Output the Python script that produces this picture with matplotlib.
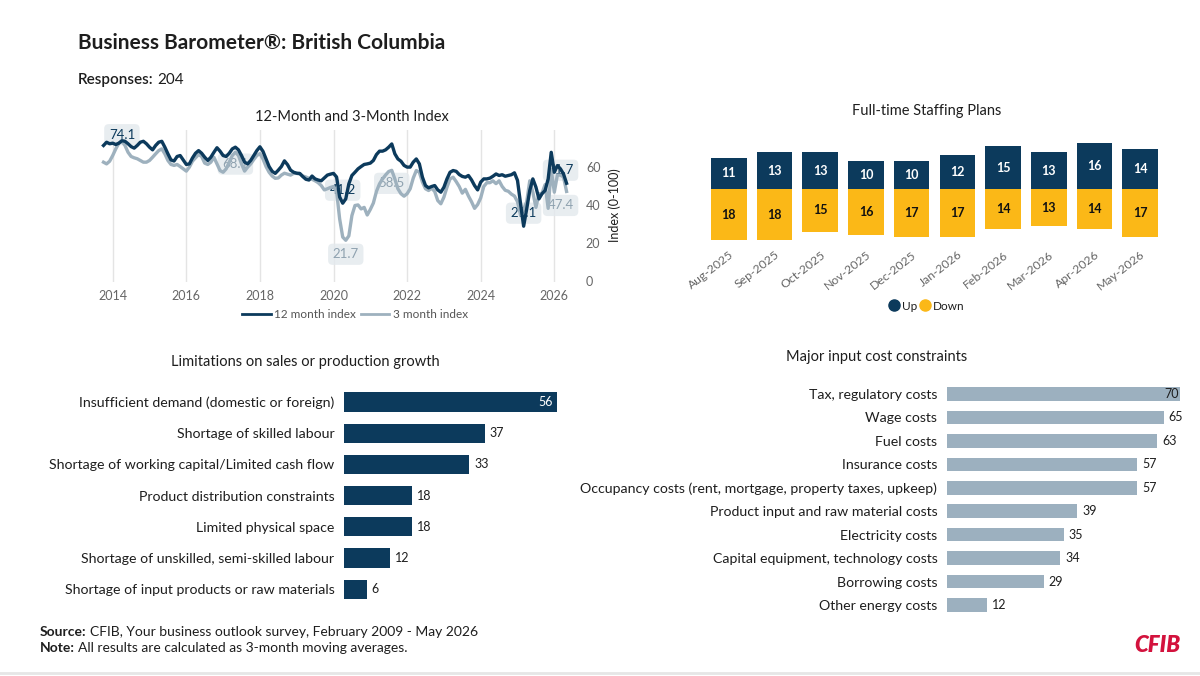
import numpy as np
import pandas as pd
import matplotlib
matplotlib.use('Agg')
import matplotlib.pyplot as plt
from matplotlib.lines import Line2D

plt.rcParams['font.family'] = ['Lato', 'DejaVu Sans']

W, H = 1200, 676

# ---------------- data ----------------
months = pd.date_range('2013-10-01', '2026-05-01', freq='MS')

index_12m = [
    71.6, 73.3, 72.5,
    72.8, 72.1, 72.8, 74.1, 73.8, 72.5, 71.0, 70.2, 71.6, 73.3, 73.8, 72.5,
    70.7, 69.3, 71.6, 73.3, 73.8, 70.7, 67.2, 64.0, 63.4, 65.8, 66.3, 64.0,
    61.6, 61.9, 65.0, 67.5, 68.9, 67.5, 65.4, 63.7, 65.4, 68.0, 70.4, 68.6,
    66.3, 65.8, 67.5, 69.8, 70.7, 69.3, 66.3, 62.8, 61.9, 63.7, 66.3, 68.9,
    70.9, 68.5, 64.5, 60.5, 58.0, 56.9, 58.6, 60.5, 63.5, 61.5, 58.6, 57.5,
    57.0, 56.9, 55.2, 53.8, 53.4, 55.5, 54.0, 53.4, 53.0, 54.5, 56.0, 56.5,
    56.9, 55.0, 44.5, 41.2, 43.5, 51.4, 55.8, 57.5, 59.3, 60.5, 61.6, 61.9,
    62.3, 63.7, 66.8, 68.6, 68.6, 69.3, 70.7, 72.4, 67.2, 64.5, 63.3, 61.1,
    60.2, 60.2, 62.8, 64.5, 61.9, 54.9, 50.5, 49.3, 50.0, 50.5, 48.2, 47.0,
    49.6, 54.0, 57.5, 58.4, 58.0, 56.3, 55.3, 54.9, 55.8, 53.5, 50.5, 48.2,
    52.3, 54.0, 54.0, 54.4, 55.4, 56.6, 55.8, 56.2, 55.4, 55.8, 56.2, 57.2,
    53.2, 40.9, 29.1, 38.2, 47.9, 54.0, 49.7, 43.5, 46.2, 47.9, 54.0, 68.0,
    57.5, 61.0, 59.3, 56.6, 51.7,
]

index_3m = [
    62.8, 61.9, 63.3,
    66.3, 69.8, 72.8, 73.8, 71.6, 68.0, 65.8, 65.1, 64.6, 63.7, 62.8, 62.8,
    63.7, 65.4, 67.2, 68.9, 69.8, 67.2, 63.7, 61.6, 61.1, 61.6, 60.5, 59.3,
    58.1, 60.2, 63.3, 65.1, 66.8, 65.8, 62.3, 61.6, 62.8, 65.4, 61.9, 58.4,
    57.5, 59.3, 62.8, 66.3, 68.1, 66.3, 61.9, 58.1, 60.2, 61.9, 64.2, 66.3,
    67.3, 64.5, 60.5, 57.5, 55.5, 54.3, 54.5, 56.0, 57.0, 56.5, 56.0, 56.9,
    56.9, 56.5, 55.5, 55.0, 54.3, 53.8, 53.0, 52.0, 50.5, 48.2, 48.8, 49.5,
    50.0, 47.5, 33.0, 23.4, 21.7, 24.0, 34.7, 40.0, 40.3, 38.2, 39.0, 35.0,
    37.9, 41.3, 47.4, 51.4, 54.0, 56.1, 57.9, 58.5, 54.0, 48.8, 46.2, 44.9,
    46.2, 48.8, 54.4, 58.4, 57.5, 52.3, 48.8, 47.9, 49.1, 47.4, 42.6, 40.9,
    44.4, 49.6, 54.0, 54.9, 52.6, 50.0, 46.5, 48.5, 45.0, 42.0, 38.5, 40.5,
    44.0, 50.0, 52.0, 52.0, 53.0, 51.5, 53.0, 50.0, 48.0, 47.5, 46.0, 45.0,
    42.0, 35.0, 38.0, 42.0, 53.0, 47.0, 39.0, 46.0, 46.5, 51.0, 38.5, 59.0,
    47.0, 56.0, 56.0, 55.0, 47.4,
]

year_ticks = list(range(2014, 2027, 2))
y_ticks = [0, 20, 40, 60]

staff_months = ['Aug-2025', 'Sep-2025', 'Oct-2025', 'Nov-2025', 'Dec-2025',
                'Jan-2026', 'Feb-2026', 'Mar-2026', 'Apr-2026', 'May-2026']
staff_up = [11, 13, 13, 10, 10, 12, 15, 13, 16, 14]
staff_down = [18, 18, 15, 16, 17, 17, 14, 13, 14, 17]

lim_labels = ['Insufficient demand (domestic or foreign)',
              'Shortage of skilled labour',
              'Shortage of working capital/Limited cash flow',
              'Product distribution constraints',
              'Limited physical space',
              'Shortage of unskilled, semi-skilled labour',
              'Shortage of input products or raw materials']
lim_values = [56, 37, 33, 18, 18, 12, 6]

cost_labels = ['Tax, regulatory costs', 'Wage costs', 'Fuel costs',
               'Insurance costs',
               'Occupancy costs (rent, mortgage, property taxes, upkeep)',
               'Product input and raw material costs', 'Electricity costs',
               'Capital equipment, technology costs', 'Borrowing costs',
               'Other energy costs']
cost_values = [70, 65, 63, 57, 57, 39, 35, 34, 29, 12]

# ---------------- style ----------------
NAVY = '#0c3a5c'
GRAYL = '#9eb1be'
YELLOW = '#fbb817'
COSTC = '#9cb0bf'
TXT = '#1e1e1e'
TICK = '#666666'
FS = 10.2


def rect(x0, y0, x1, y1):
    return [x0 / W, 1 - y1 / H, (x1 - x0) / W, (y1 - y0) / H]


fig = plt.figure(figsize=(12, 6.76), dpi=100)
fig.patch.set_facecolor('white')

# header
fig.text(78 / W, 1 - 43 / H, 'Business Barometer®: British Columbia',
         fontsize=15, fontweight='bold', color=TXT, va='center', ha='left')
fig.canvas.draw()
rend = fig.canvas.get_renderer()
t = fig.text(78 / W, 1 - 80 / H, 'Responses:', fontsize=11, color=TXT,
             fontweight='semibold', va='center', ha='left')
bb = t.get_window_extent(renderer=rend)
fig.text((bb.x1 + 4) / W, 1 - 80 / H, '204', fontsize=11, color=TXT,
         va='center', ha='left')

# ---------------- line chart ----------------
xd = months.year + (months.month - 1) / 12.0
ax1 = fig.add_axes(rect(97, 129.5, 572, 281.5))
ax1.plot(xd, index_12m, color=NAVY, lw=2.4, zorder=3, solid_joinstyle='round')
ax1.plot(xd, index_3m, color=GRAYL, lw=2.4, zorder=2, solid_joinstyle='round')
ax1.set_xlim(2013.573, 2026.481)
ax1.set_ylim(0, 80)
ax1.set_xticks(year_ticks)
ax1.set_xticklabels([str(y) for y in year_ticks])
ax1.set_yticks(y_ticks)
ax1.yaxis.tick_right()
ax1.yaxis.set_label_position('right')
ax1.set_ylabel('Index (0-100)', fontsize=9, color=TXT, labelpad=6)
ax1.tick_params(axis='both', length=0, labelsize=9, labelcolor=TICK)
ax1.tick_params(axis='x', pad=6)
ax1.tick_params(axis='y', pad=10)
ax1.grid(axis='x', color='#e4e4e4', lw=1, zorder=0)
ax1.set_axisbelow(True)
for s in ax1.spines.values():
    s.set_visible(False)

annots = [
    (index_12m, '2014-04', 6, NAVY),
    (index_3m, '2017-05', -12, '#8fa2b0'),
    (index_12m, '2020-04', 13, NAVY),
    (index_3m, '2020-05', -14, '#8fa2b0'),
    (index_3m, '2021-08', -13, '#8fa2b0'),
    (index_12m, '2025-03', 13, NAVY),
    (index_12m, '2026-05', 13, NAVY),
    (index_3m, '2026-05', -14, '#8fa2b0'),
]
mstr = list(months.strftime('%Y-%m'))
for series, m, dy, col in annots:
    i = mstr.index(m)
    dx = -6 if m == '2026-05' else 0
    ax1.annotate(f'{series[i]:.1f}', xy=(xd[i], series[i]), xytext=(dx, dy),
                 textcoords='offset pixels', ha='center', va='center',
                 fontsize=9.5, color=col, zorder=1,
                 bbox=dict(boxstyle='round,pad=0.35', fc='#e3e9ed', ec='none',
                           alpha=0.8))

fig.text(352 / W, 1 - 117 / H, '12-Month and 3-Month Index', fontsize=10.5,
         color=TXT, ha='center', va='center')
handles = [Line2D([], [], color=NAVY, lw=2), Line2D([], [], color=GRAYL, lw=2)]
fig.legend(handles, ['12 month index', '3 month index'], loc='center',
           bbox_to_anchor=(355 / W, 1 - 315 / H), ncol=2, frameon=False,
           fontsize=8.5, handlelength=2.4, columnspacing=0.4,
           handletextpad=0.3, labelcolor='#555555')

# ---------------- staffing chart ----------------
ax2 = fig.add_axes(rect(706, 129.2, 1163, 244.6))
xs = np.arange(len(staff_months))
ax2.bar(xs, staff_up, width=0.78, color=NAVY)
ax2.bar(xs, -np.array(staff_down), width=0.78, color=YELLOW)
ax2.set_xlim(-0.5, len(staff_months) - 0.5)
ax2.set_ylim(-19.5, 21)
for x, u, d in zip(xs, staff_up, staff_down):
    ax2.text(x, u / 2, str(u), ha='center', va='center', color='white',
             fontsize=9, fontweight='bold')
    ax2.text(x, -d / 2, str(d), ha='center', va='center', color='#111111',
             fontsize=9, fontweight='bold')
ax2.set_yticks([])
ax2.set_xticks(xs)
ax2.set_xticklabels(staff_months, rotation=38, ha='right',
                    rotation_mode='anchor', fontsize=8.8, color=TICK)
ax2.tick_params(axis='x', length=0, pad=3)
for s in ax2.spines.values():
    s.set_visible(False)
fig.text(927 / W, 1 - 111 / H, 'Full-time Staffing Plans', fontsize=10.5,
         color=TXT, ha='center', va='center')
h2 = [Line2D([], [], marker='o', ls='none', color=NAVY, markersize=8),
      Line2D([], [], marker='o', ls='none', color=YELLOW, markersize=8)]
fig.legend(h2, ['Up', 'Down'], loc='center',
           bbox_to_anchor=(927 / W, 1 - 306 / H), ncol=2, frameon=False,
           fontsize=8.5, handlelength=0.8, columnspacing=0.3,
           handletextpad=0.25, labelcolor=TXT)

# ---------------- limitations chart ----------------
ax3 = fig.add_axes(rect(344, 386.4, 572, 604.8))
ys = np.arange(len(lim_labels))
ax3.barh(ys, lim_values, height=0.61, color=NAVY)
ax3.set_xlim(0, 60)
ax3.set_ylim(len(lim_labels) - 0.5, -0.5)
ax3.set_yticks(ys)
ax3.set_yticklabels(lim_labels, fontsize=FS, color=TXT)
ax3.set_xticks([])
ax3.tick_params(axis='y', length=0, pad=7)
for s in ax3.spines.values():
    s.set_visible(False)
vmax = max(lim_values)
for y, v in zip(ys, lim_values):
    if v == vmax:
        ax3.annotate(str(v), xy=(v, y), xytext=(-4, 0),
                     textcoords='offset pixels', ha='right', va='center',
                     fontsize=9, color='white')
    else:
        ax3.annotate(str(v), xy=(v, y), xytext=(5, 0),
                     textcoords='offset pixels', ha='left', va='center',
                     fontsize=9, color=TXT)
fig.text(305 / W, 1 - 362 / H, 'Limitations on sales or production growth',
         fontsize=10.5, color=TXT, ha='center', va='center')

# ---------------- cost chart ----------------
ax4 = fig.add_axes(rect(947, 382.3, 1187, 616.7))
ys4 = np.arange(len(cost_labels))
ax4.barh(ys4, cost_values, height=0.58, color=COSTC)
ax4.set_xlim(0, 72)
ax4.set_ylim(len(cost_labels) - 0.5, -0.5)
ax4.set_yticks(ys4)
ax4.set_yticklabels(cost_labels, fontsize=FS, color=TXT)
ax4.set_xticks([])
ax4.tick_params(axis='y', length=0, pad=7)
for s in ax4.spines.values():
    s.set_visible(False)
cmax = max(cost_values)
for y, v in zip(ys4, cost_values):
    if v == cmax:
        ax4.annotate(str(v), xy=(v, y), xytext=(-1, 0),
                     textcoords='offset pixels', ha='right', va='center',
                     fontsize=9, color=TXT)
    else:
        ax4.annotate(str(v), xy=(v, y), xytext=(5, 0),
                     textcoords='offset pixels', ha='left', va='center',
                     fontsize=9, color=TXT)
fig.text(877 / W, 1 - 357 / H, 'Major input cost constraints', fontsize=10.5,
         color=TXT, ha='center', va='center')

# ---------------- footer ----------------
for ypx, bold, rest in [(632, 'Source:', 'CFIB, Your business outlook survey, February 2009 - May 2026'),
                        (648, 'Note:', 'All results are calculated as 3-month moving averages.')]:
    t = fig.text(40 / W, 1 - ypx / H, bold, fontsize=10, fontweight='bold',
                 color=TXT, ha='left', va='center')
    bb = t.get_window_extent(renderer=rend)
    fig.text((bb.x1 + 3) / W, 1 - ypx / H, rest, fontsize=10, color=TXT,
             ha='left', va='center')

fig.text(1157 / W, 1 - 645 / H, 'CFIB', fontsize=16, fontweight='heavy',
         style='italic', color='#d3123d', ha='center', va='center')
fig.add_artist(Line2D([0, 1], [1 - 673 / H] * 2, color='#e6e6e6', lw=2))

fig.savefig('out.png', dpi=100, facecolor='white')
